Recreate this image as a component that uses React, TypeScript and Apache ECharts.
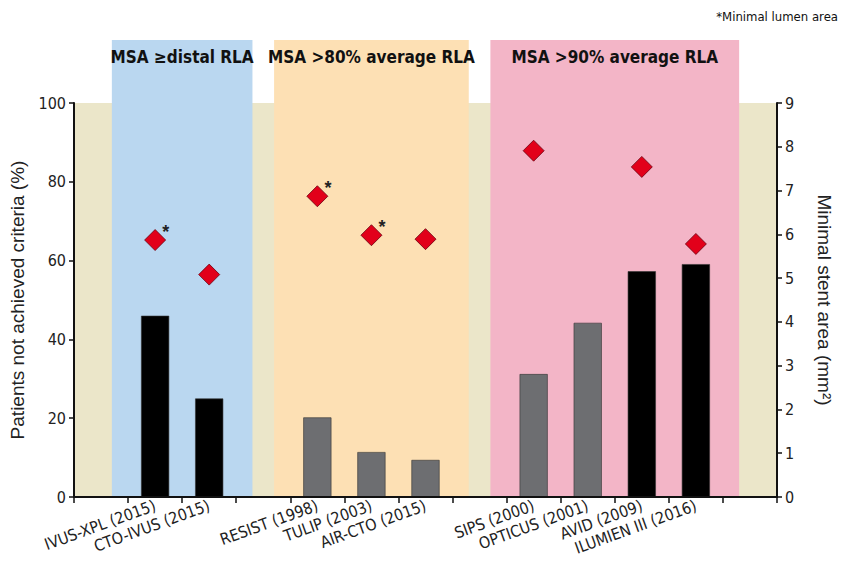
import { useEffect, useRef } from 'react';
import * as echarts from 'echarts';

const categories = [
  '', 'IVUS-XPL (2015)', 'CTO-IVUS (2015)', '', 'RESIST (1998)', 'TULIP (2003)', 'AIR-CTO (2015)', '',
  'SIPS (2000)', 'OPTICUS (2001)', 'AVID (2009)', 'ILUMIEN III (2016)', '',
];
const patientsNotAchieved = [null, 46, 25, null, 20.2, 11.4, 9.4, null, 31.2, 44.2, 57.3, 59.1, null];
const barTone = ['', 'dark', 'dark', '', 'grey', 'grey', 'grey', '', 'grey', 'grey', 'dark', 'dark', ''];
const minimalStentArea = [null, 5.87, 5.08, null, 6.87, 5.98, 5.89, null, 7.91, null, 7.54, 5.78, null];
const minimalLumenArea = [false, true, false, false, true, true, false, false, false, false, false, false, false];

const bandLabels = ['MSA \u2265distal RLA', 'MSA >80% average RLA', 'MSA >90% average RLA'];
const bandFrom = [0.2, 3.2, 7.2];
const bandTo = [2.8, 6.8, 11.8];
const bandColors = ['#bad7f0', '#fde0b4', '#f3b5c7'];

const leftTicks = { min: 0, max: 100, interval: 20 };
const rightTicks = { min: 0, max: 9, interval: 1 };

const NARROW = "'Liberation Sans Narrow', 'DejaVu Sans Condensed', 'Roboto Condensed', sans-serif";
const SANS = "'Liberation Sans', Arial, sans-serif";

function yAxisBase() {
  return {
    type: 'value',
    z: 10,
    axisLine: { show: true, lineStyle: { color: '#111', width: 2 } },
    axisTick: { show: true, length: 5, lineStyle: { color: '#111', width: 1.5 } },
    splitLine: { show: false },
    axisLabel: { color: '#222', fontFamily: NARROW, fontSize: 16 },
    nameLocation: 'middle',
    nameTextStyle: { color: '#222', fontFamily: SANS, fontSize: 19 },
  };
}

export default function App() {
  const ref = useRef<HTMLDivElement>(null);
  useEffect(() => {
    const chart = echarts.init(ref.current!, null, { renderer: 'svg' });
    chart.setOption({
      animation: false,
      backgroundColor: '#ffffff',
      grid: { left: 72, right: 64, top: 103, bottom: 82 },
      xAxis: {
        type: 'category',
        z: 10,
        data: categories,
        boundaryGap: true,
        axisLine: { show: true, lineStyle: { color: '#111', width: 2 } },
        axisTick: { show: true, length: 6, alignWithLabel: false, interval: 0, lineStyle: { color: '#111', width: 1.5 } },
        axisLabel: {
          interval: 0, rotate: 20, color: '#222', fontFamily: NARROW, fontSize: 16, margin: 8,
        },
      },
      yAxis: [
        {
          ...yAxisBase(),
          ...leftTicks,
          position: 'left',
          name: 'Patients not achieved criteria (%)',
          nameGap: 47,
          nameRotate: 90,
        },
        {
          ...yAxisBase(),
          ...rightTicks,
          position: 'right',
          name: 'Minimal stent area (mm\u00b2)',
          nameGap: 38,
          nameRotate: -90,
        },
      ],
      series: [
        {
          type: 'bar',
          yAxisIndex: 0,
          barWidth: '52%',
          data: patientsNotAchieved.map((v, i) => ({
            value: v,
            itemStyle: {
              color: barTone[i] === 'dark' ? '#000000' : '#6d6e71',
              borderColor: '#333',
              borderWidth: 0.6,
            },
          })),
          z: 3,
        },
        {
          type: 'scatter',
          yAxisIndex: 1,
          symbol: 'diamond',
          symbolSize: 21,
          itemStyle: { color: '#e2001a', borderColor: '#6b0010', borderWidth: 0.8, opacity: 1 },
          data: minimalStentArea.map((v, i) => ({
            value: v,
            label: minimalLumenArea[i]
              ? { show: true, formatter: '*', position: [18, -6], fontSize: 18, fontWeight: 'bold', color: '#222' }
              : { show: false },
          })),
          z: 4,
        },
      ],
    });

    const c0 = chart.convertToPixel({ xAxisIndex: 0 }, 0) as number;
    const c1 = chart.convertToPixel({ xAxisIndex: 0 }, 1) as number;
    const xp = (v: number) => c0 + v * (c1 - c0);
    const yp = (v: number) => chart.convertToPixel({ yAxisIndex: 0 }, v) as number;
    const yBase = yp(0);
    const y0 = yBase - 1;
    const y100 = yp(100);
    const bandTop = 40;
    const gridLeft = xp(-0.5);
    const left = gridLeft + 1;
    const right = xp(12.5) - 1;
    const elements: any[] = [
      {
        type: 'rect', z: -2, silent: true,
        shape: { x: left, y: y100, width: right - left, height: y0 - y100 },
        style: { fill: '#ebe6c9' },
      },
      {
        type: 'line', z: 20, silent: true,
        shape: { x1: gridLeft, y1: y100, x2: gridLeft, y2: yBase + 1 },
        style: { stroke: '#111', lineWidth: 2 },
      },
    ];
    bandLabels.forEach((label, i) => {
      const x1 = xp(bandFrom[i]);
      const x2 = xp(bandTo[i]);
      elements.push({
        type: 'rect', z: -1, silent: true,
        shape: { x: x1, y: bandTop, width: x2 - x1, height: y0 - bandTop },
        style: { fill: bandColors[i] },
      });
      elements.push({
        type: 'text', z: 5, silent: true,
        x: (x1 + x2) / 2, y: 57,
        style: {
          text: label, fill: '#111', fontFamily: NARROW, fontSize: 17, fontWeight: 'bold',
          textAlign: 'center', textVerticalAlign: 'middle',
        },
      });
    });
    elements.push({
      type: 'text', z: 5, silent: true,
      right: 4, top: 10,
      style: { text: '*Minimal lumen area', fill: '#111', fontFamily: NARROW, fontSize: 13 },
    });
    chart.setOption({ graphic: { elements } });

    return () => chart.dispose();
  }, []);
  return <div ref={ref} style={{ position: 'absolute', left: 0, top: 0, width: 842, height: 579 }} />;
}
